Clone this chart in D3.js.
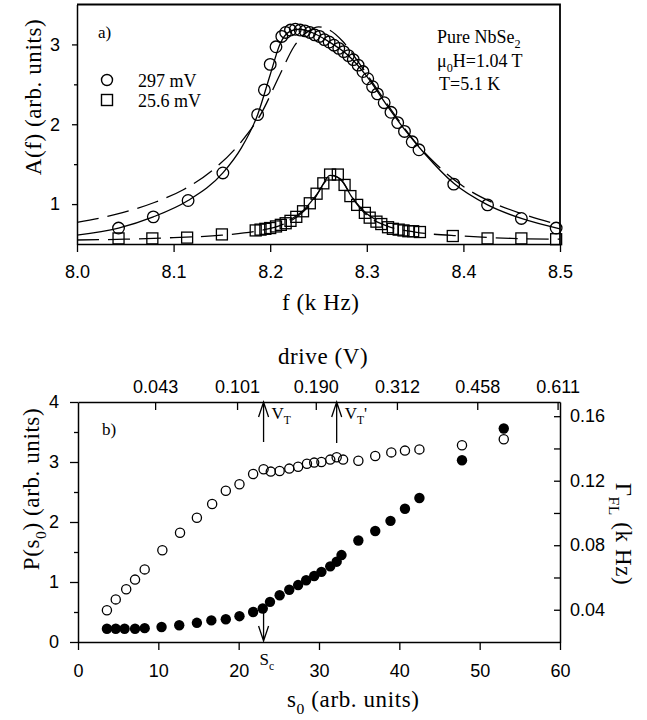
<!DOCTYPE html>
<html>
<head>
<meta charset="utf-8">
<script src="https://cdn.jsdelivr.net/npm/d3@7"></script>
<style>
  body { margin: 0; background: #fff; }
</style>
</head>
<body>
<svg id="chart"></svg>
<script>
// ---- panel a) : A(f) vs f ----
const CIRCLE_F = [8.043, 8.079, 8.115, 8.151, 8.187, 8.194, 8.200, 8.206, 8.212, 8.216, 8.221, 8.226, 8.231, 8.236, 8.241, 8.246, 8.251, 8.256, 8.261, 8.266, 8.271, 8.276, 8.281, 8.286, 8.291, 8.296, 8.301, 8.306, 8.311, 8.318, 8.325, 8.332, 8.339, 8.347, 8.354, 8.390, 8.425, 8.460, 8.496];
const CIRCLE_A = [0.70, 0.84, 1.045, 1.39, 2.12, 2.43, 2.75, 2.97, 3.10, 3.15, 3.18, 3.19, 3.18, 3.17, 3.15, 3.12, 3.10, 3.06, 3.03, 2.99, 2.95, 2.91, 2.86, 2.81, 2.74, 2.66, 2.57, 2.47, 2.38, 2.27, 2.15, 2.02, 1.91, 1.78, 1.68, 1.25, 0.99, 0.82, 0.70];

const SQUARE_F = [8.043, 8.078, 8.114, 8.150, 8.185, 8.190, 8.195, 8.200, 8.206, 8.211, 8.216, 8.221, 8.227, 8.234, 8.241, 8.248, 8.255, 8.262, 8.270, 8.277, 8.283, 8.290, 8.298, 8.303, 8.310, 8.315, 8.322, 8.327, 8.333, 8.338, 8.343, 8.348, 8.355, 8.389, 8.425, 8.460, 8.496];
const SQUARE_A = [0.57, 0.57, 0.58, 0.62, 0.67, 0.68, 0.69, 0.70, 0.72, 0.74, 0.76, 0.79, 0.84, 0.91, 1.01, 1.13, 1.26, 1.37, 1.37, 1.24, 1.10, 0.99, 0.89, 0.83, 0.78, 0.75, 0.71, 0.69, 0.68, 0.67, 0.66, 0.66, 0.65, 0.60, 0.57, 0.57, 0.56];

// fitted curves
const FIT_SOLID_F = [8.00, 8.043, 8.079, 8.115, 8.151, 8.170, 8.187, 8.200, 8.210, 8.220, 8.230, 8.245, 8.260, 8.280, 8.300, 8.320, 8.340, 8.360, 8.390, 8.425, 8.460, 8.500];
const FIT_SOLID_A = [0.61, 0.70, 0.84, 1.045, 1.39, 1.70, 2.12, 2.62, 3.00, 3.16, 3.19, 3.14, 3.04, 2.87, 2.60, 2.25, 1.92, 1.63, 1.26, 0.99, 0.82, 0.69];
const FIT_DASH_F = [8.00, 8.04, 8.08, 8.11, 8.14, 8.17, 8.19, 8.21, 8.225, 8.24, 8.25, 8.26, 8.275, 8.29, 8.31, 8.33, 8.35, 8.37, 8.40, 8.43, 8.46, 8.50];
const FIT_DASH_A = [0.77, 0.87, 1.02, 1.18, 1.42, 1.78, 2.12, 2.62, 2.98, 3.17, 3.22, 3.19, 3.04, 2.80, 2.45, 2.10, 1.78, 1.52, 1.22, 1.02, 0.88, 0.74];
const FIT_SQ_DASH_F = [8.00, 8.05, 8.10, 8.15, 8.19, 8.21, 8.23, 8.245, 8.255, 8.265, 8.275, 8.285, 8.30, 8.32, 8.35, 8.40, 8.45, 8.50];
const FIT_SQ_DASH_A = [0.55, 0.56, 0.58, 0.61, 0.67, 0.73, 0.86, 1.05, 1.25, 1.36, 1.28, 1.08, 0.86, 0.73, 0.65, 0.60, 0.57, 0.56];
const FIT_SQ_SOLID_F = [8.22, 8.235, 8.25, 8.262, 8.272, 8.285, 8.30, 8.31];
const FIT_SQ_SOLID_A = [0.80, 0.93, 1.15, 1.36, 1.32, 1.08, 0.88, 0.80];

const A_X_TICKS = [8.0, 8.1, 8.2, 8.3, 8.4, 8.5];
const A_Y_TICKS = [1, 2, 3];
const A_Y_MINOR = [1.5, 2.5];

// ---- panel b) : P(s0) and Gamma_FL vs s0 ----
const OPEN_S0 = [3.6, 4.7, 6.0, 7.1, 8.3, 10.5, 12.7, 14.8, 16.7, 18.4, 20.1, 21.8, 23.1, 24.0, 25.1, 26.3, 27.4, 28.5, 29.4, 30.3, 31.4, 32.2, 33.0, 34.9, 37.0, 39.0, 40.7, 42.5, 47.8, 53.0];
const OPEN_P = [0.53, 0.71, 0.88, 1.04, 1.21, 1.53, 1.82, 2.07, 2.30, 2.52, 2.63, 2.80, 2.88, 2.84, 2.85, 2.89, 2.92, 2.97, 2.99, 3.00, 3.04, 3.08, 3.04, 3.02, 3.10, 3.16, 3.19, 3.21, 3.28, 3.38];
const FILLED_S0 = [3.6, 4.7, 5.8, 7.1, 8.3, 10.4, 12.6, 14.8, 16.6, 18.4, 20.1, 21.8, 23.0, 23.9, 25.1, 26.3, 27.4, 28.4, 29.4, 30.3, 31.4, 32.2, 32.8, 34.9, 37.0, 38.9, 40.7, 42.5, 47.8, 53.0];
const FILLED_GAMMA = [0.0282, 0.0282, 0.0282, 0.0282, 0.0286, 0.0293, 0.0304, 0.0319, 0.0334, 0.0341, 0.0360, 0.0386, 0.0408, 0.0449, 0.0490, 0.0524, 0.0553, 0.0583, 0.0609, 0.0635, 0.0669, 0.0698, 0.0739, 0.0829, 0.0888, 0.0951, 0.1026, 0.1093, 0.1327, 0.1524];

const B_X_TICKS = [0, 10, 20, 30, 40, 50, 60];
const B_Y_TICKS = [0, 1, 2, 3, 4];
const B_Y_MINOR = [0.5, 1.5, 2.5, 3.5];
const GAMMA_TICKS = [0.04, 0.08, 0.12, 0.16];
const GAMMA_MINOR = [0.06, 0.10, 0.14];
const DRIVE_LABELS = ["0.043", "0.101", "0.190", "0.312", "0.458", "0.611"];
const DRIVE_AT_S0 = [9.6, 19.8, 29.6, 39.7, 49.7, 59.7];
const VT_S0 = 23.1, VT2_S0 = 32.2, SC_S0 = 23.1;

const WIDTH = 647, HEIGHT = 720;
const SERIF = "'Liberation Serif', 'Times New Roman', serif";
const SANS = "'Liberation Sans', Arial, sans-serif";
const TITLE = 23;

const svg = d3.select("#chart").attr("width", WIDTH).attr("height", HEIGHT);

// text with subscripts: parts = [{t, sub}]
function richText(g, x, y, parts, size) {
  const t = g.append("text").attr("x", x).attr("y", y)
    .style("font-family", SERIF).style("font-size", size + "px");
  let shift = 0;
  parts.forEach((p) => {
    const target = p.sub ? size * 0.3 : 0;
    t.append("tspan").attr("dy", target - shift)
      .style("font-size", p.sub ? size * 0.68 + "px" : null).text(p.t);
    shift = target;
  });
  return t;
}

function styleAxis(g) {
  g.selectAll("path.domain").attr("stroke", "#000").attr("stroke-width", 1.5);
  g.selectAll(".tick line").attr("stroke", "#000").attr("stroke-width", 1.3);
  g.selectAll(".tick text").style("font-family", SANS).style("font-size", "18px").attr("fill", "#000");
}

// ================= panel a =================
const xA = d3.scaleLinear().domain([8.0, 8.5]).range([77, 560]);
const yA = d3.scaleLinear().domain([0.5, 3.5]).range([244, 4.5]);

const ga = svg.append("g");
ga.append("g").attr("transform", "translate(0,244)")
  .call(d3.axisBottom(xA).tickValues(A_X_TICKS).tickFormat(d3.format(".1f")).tickSizeInner(8).tickSizeOuter(0).tickPadding(13))
  .call(styleAxis);
ga.append("g").attr("transform", "translate(77,0)")
  .call(d3.axisLeft(yA).tickValues(A_Y_TICKS).tickFormat(d3.format("d")).tickSizeInner(5).tickSizeOuter(0).tickPadding(12))
  .call(styleAxis);
ga.append("g").attr("transform", "translate(77,0)")
  .call(d3.axisLeft(yA).tickValues(A_Y_MINOR).tickFormat("").tickSize(3))
  .call(styleAxis).select("path.domain").remove();
// top and right frame
ga.append("path").attr("d", `M77,${yA(3.5)}H560V244`).attr("fill", "none").attr("stroke", "#000").attr("stroke-width", 1.8);

const lineA = (fs, as) => d3.line().x((d, i) => xA(fs[i])).y((d, i) => yA(as[i])).curve(d3.curveMonotoneX)(fs);
ga.append("path").attr("d", lineA(FIT_DASH_F, FIT_DASH_A)).attr("fill", "none").attr("stroke", "#000").attr("stroke-width", 1.3).attr("stroke-dasharray", "22,9");
ga.append("path").attr("d", lineA(FIT_SOLID_F, FIT_SOLID_A)).attr("fill", "none").attr("stroke", "#000").attr("stroke-width", 1.3);
ga.append("path").attr("d", lineA(FIT_SQ_DASH_F, FIT_SQ_DASH_A)).attr("fill", "none").attr("stroke", "#000").attr("stroke-width", 1.3).attr("stroke-dasharray", "22,9");
ga.append("path").attr("d", lineA(FIT_SQ_SOLID_F, FIT_SQ_SOLID_A)).attr("fill", "none").attr("stroke", "#000").attr("stroke-width", 1.3);

ga.append("g").selectAll("circle").data(CIRCLE_F).join("circle")
  .attr("cx", (d) => xA(d)).attr("cy", (d, i) => yA(CIRCLE_A[i])).attr("r", 5.8)
  .attr("fill", "none").attr("stroke", "#000").attr("stroke-width", 1.3);
ga.append("g").selectAll("rect").data(SQUARE_F).join("rect")
  .attr("x", (d) => xA(d) - 5.5).attr("y", (d, i) => yA(SQUARE_A[i]) - 5.5).attr("width", 11).attr("height", 11)
  .attr("fill", "none").attr("stroke", "#000").attr("stroke-width", 1.3);

// legend
ga.append("circle").attr("cx", 107).attr("cy", 80).attr("r", 5.5).attr("fill", "none").attr("stroke", "#000").attr("stroke-width", 1.4);
ga.append("rect").attr("x", 101.5).attr("y", 94.5).attr("width", 11).attr("height", 11).attr("fill", "none").attr("stroke", "#000").attr("stroke-width", 1.4);
richText(ga, 138, 87, [{ t: "297 mV" }], 18);
richText(ga, 138, 107, [{ t: "25.6 mV" }], 18);
richText(ga, 98, 38, [{ t: "a)" }], 17);

richText(ga, 437, 43, [{ t: "Pure NbSe" }, { t: "2", sub: true }], 18);
richText(ga, 437, 67, [{ t: "μ" }, { t: "0", sub: true }, { t: "H=1.04 T" }], 18);
richText(ga, 439, 90, [{ t: "T=5.1 K" }], 18);

richText(ga, 282, 310, [{ t: "f (k Hz)" }], TITLE).style("letter-spacing", "0.6px");
richText(ga, 0, 0, [{ t: "A(f) (arb. units)" }], TITLE).style("letter-spacing", "0.6px")
  .attr("text-anchor", "middle").attr("transform", "translate(41,97) rotate(-90)");

// ================= panel b =================
const xB = d3.scaleLinear().domain([0, 60]).range([78, 560]);
const yB = d3.scaleLinear().domain([0, 4]).range([642, 402]);
const yG = d3.scaleLinear().domain([0.02, 0.1688]).range([642, 402]);

const gb = svg.append("g");
gb.append("g").attr("transform", "translate(0,642)")
  .call(d3.axisBottom(xB).tickValues(B_X_TICKS).tickFormat(d3.format("d")).tickSizeInner(8).tickSizeOuter(0).tickPadding(14))
  .call(styleAxis);
gb.append("g").attr("transform", "translate(78,0)")
  .call(d3.axisLeft(yB).tickValues(B_Y_TICKS).tickFormat(d3.format("d")).tickSizeInner(8).tickSizeOuter(0).tickPadding(11))
  .call(styleAxis);
gb.append("g").attr("transform", "translate(78,0)")
  .call(d3.axisLeft(yB).tickValues(B_Y_MINOR).tickFormat("").tickSize(4))
  .call(styleAxis).select("path.domain").remove();
gb.append("g").attr("transform", "translate(560,0)")
  .call(d3.axisRight(yG).tickValues(GAMMA_TICKS).tickFormat(d3.format(".2f")).tickSizeInner(-6).tickSizeOuter(0).tickPadding(10))
  .call(styleAxis);
gb.append("g").attr("transform", "translate(560,0)")
  .call(d3.axisRight(yG).tickValues(GAMMA_MINOR).tickFormat("").tickSize(-6))
  .call(styleAxis).select("path.domain").remove();
gb.append("g").attr("transform", "translate(0,402)")
  .call(d3.axisTop(xB).tickValues(DRIVE_AT_S0).tickFormat((d, i) => DRIVE_LABELS[i]).tickSizeInner(-8).tickSizeOuter(0).tickPadding(9))
  .call(styleAxis);

gb.append("g").selectAll("circle").data(OPEN_S0).join("circle")
  .attr("cx", (d) => xB(d)).attr("cy", (d, i) => yB(OPEN_P[i])).attr("r", 4.6)
  .attr("fill", "none").attr("stroke", "#000").attr("stroke-width", 1.3);
gb.append("g").selectAll("circle").data(FILLED_S0).join("circle")
  .attr("cx", (d) => xB(d)).attr("cy", (d, i) => yG(FILLED_GAMMA[i])).attr("r", 5.2)
  .attr("fill", "#000");

// arrows
const arrow = (x, tipY, tailY) => {
  const dir = tailY > tipY ? 1 : -1;
  gb.append("path")
    .attr("d", `M${x},${tailY}V${tipY}M${x - 5},${tipY + dir * 15}L${x},${tipY}L${x + 5},${tipY + dir * 15}`)
    .attr("fill", "none").attr("stroke", "#000").attr("stroke-width", 1.3);
};
arrow(xB(VT_S0), 402, 442);
arrow(xB(VT2_S0), 402, 443);
arrow(xB(SC_S0), 641, 610);

richText(gb, xB(VT_S0) + 8, 419, [{ t: "V" }, { t: "T", sub: true }], 17);
richText(gb, xB(VT2_S0) + 8, 419, [{ t: "V" }, { t: "T", sub: true }, { t: "'" }], 17);
richText(gb, xB(SC_S0) - 4, 665, [{ t: "S" }, { t: "c", sub: true }], 17);
richText(gb, 102, 435, [{ t: "b)" }], 17);

richText(gb, 278, 364, [{ t: "drive (V)" }], TITLE).style("letter-spacing", "0.6px");
richText(gb, 287, 707, [{ t: "s" }, { t: "0", sub: true }, { t: " (arb. units)" }], TITLE).style("letter-spacing", "0.6px");
richText(gb, 0, 0, [{ t: "P(s" }, { t: "0", sub: true }, { t: ") (arb. units)" }], TITLE).style("letter-spacing", "0.6px")
  .attr("text-anchor", "middle").attr("transform", "translate(39,489) rotate(-90)");
richText(gb, 0, 0, [{ t: "Γ" }, { t: "FL", sub: true }, { t: " (k Hz)" }], TITLE).style("letter-spacing", "0.6px")
  .attr("text-anchor", "middle").attr("transform", "translate(616,534) rotate(90)");
</script>
</body>
</html>
